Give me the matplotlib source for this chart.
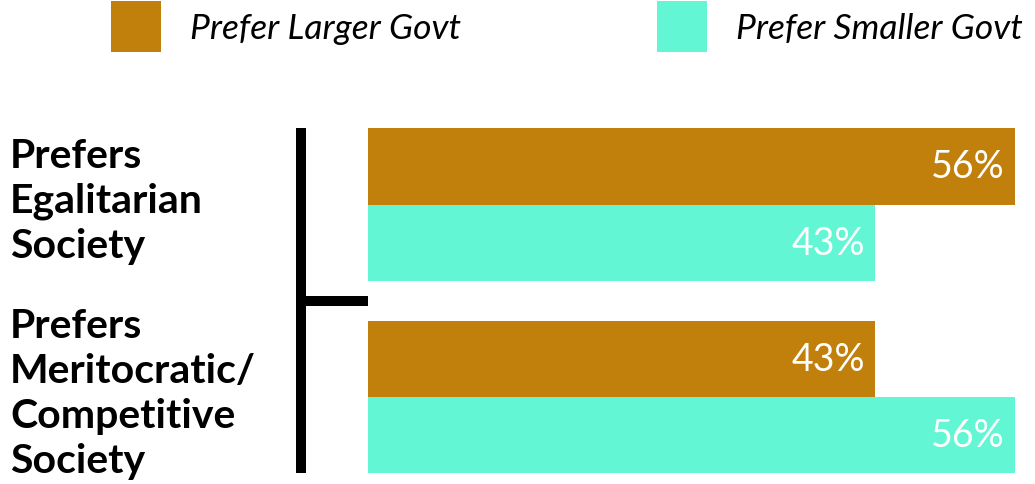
import numpy as np
import matplotlib
matplotlib.use("Agg")
import matplotlib.pyplot as plt
from matplotlib.patches import Patch

# data
categories = ["Prefers\nEgalitarian\nSociety",
              "Prefers\nMeritocratic/\nCompetitive\nSociety"]
series_names = ["Prefer Larger Govt", "Prefer Smaller Govt"]
larger_govt = [56.0, 43.9]
smaller_govt = [43.9, 56.0]
larger_labels = ["56%", "43%"]
smaller_labels = ["43%", "56%"]
colors = ["#C17F0B", "#62F6D4"]

W, H, DPI = 1035, 485, 100
fig = plt.figure(figsize=(W / DPI, H / DPI), dpi=DPI)
px = 72.0 / DPI  # points per pixel

# axes placed in pixel terms of the reference
left, right, top, bottom = 368, 1035, 129, 474
ax = fig.add_axes([left / W, 1 - bottom / H, (right - left) / W, (bottom - top) / H])

y = np.arange(len(categories))
h = 0.396
ax.barh(y - h / 2, larger_govt, height=h, color=colors[0], edgecolor="none")
ax.barh(y + h / 2, smaller_govt, height=h, color=colors[1], edgecolor="none")

xmax = 56.0 * (right - left) / (1015 - left)
ax.set_xlim(0, xmax)
ax.set_ylim(1 + 0.396, -0.398)

# value labels inside bar ends
pad = 0.9
for i in range(len(categories)):
    ax.text(larger_govt[i] - pad, y[i] - h / 2, larger_labels[i], ha="right", va="center",
            color="white", fontsize=27, family="Lato")
    ax.text(smaller_govt[i] - pad, y[i] + h / 2, smaller_labels[i], ha="right", va="center",
            color="white", fontsize=27, family="Lato")

# bracket-like axis: thick left spine with one inward tick between groups
for s in ["top", "right", "bottom"]:
    ax.spines[s].set_visible(False)
ax.spines["left"].set_position(("outward", 67 * px))
ax.spines["left"].set_linewidth(10 * px)
ax.spines["left"].set_capstyle("butt")
ax.set_xticks([])
ax.set_yticks([0.5])
ax.set_yticklabels([""])
ax.tick_params(axis="y", direction="in", length=67 * px, width=10 * px, color="black")

# category labels, left aligned near the figure edge
trans = matplotlib.transforms.blended_transform_factory(fig.transFigure, ax.transData)
for i, cat in enumerate(categories):
    ax.text(10 / W, y[i] - 0.02, cat, transform=trans, ha="left", va="center",
            fontsize=29.5, family="Lato", fontweight="bold", linespacing=1.26)

# legend across the top
handles = [Patch(facecolor=c, edgecolor="none") for c in colors]
fs = 25.5
fig.legend(handles, series_names, loc="upper left", bbox_to_anchor=(111 / W, 1 - 2 / H),
           ncol=2, frameon=False, borderpad=0, borderaxespad=0,
           handlelength=50 * px / fs, handleheight=50 * px / fs * 1.3,
           handletextpad=29 * px / fs, columnspacing=196 * px / fs,
           prop={"family": "Lato", "style": "italic", "size": fs})

fig.savefig("out.png", dpi=DPI)
